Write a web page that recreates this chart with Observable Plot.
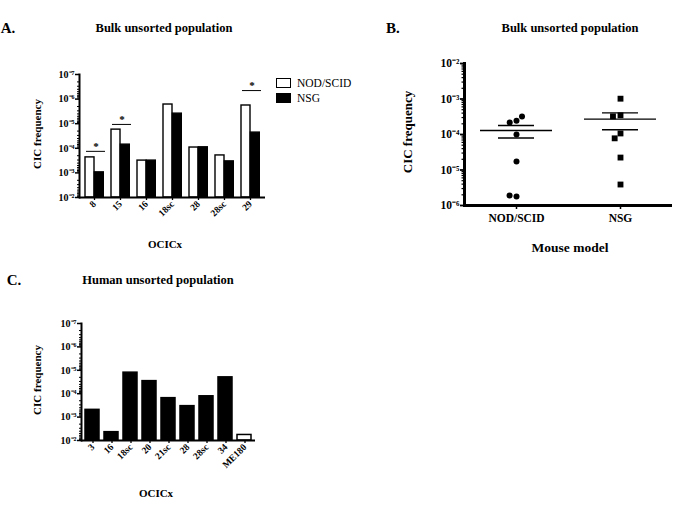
<!DOCTYPE html>
<html><head><meta charset="utf-8">
<script src="https://cdn.jsdelivr.net/npm/d3@7"></script>
<script src="https://cdn.jsdelivr.net/npm/@observablehq/plot@0.6"></script>
<style>
body{margin:0;background:#fff;}
#root{position:relative;width:696px;height:507px;overflow:hidden;font-family:"Liberation Serif","Times New Roman",serif;color:#000;}
</style></head><body><div id="root"></div>
<script>
// ---------- Panel A: bulk unsorted population (CIC frequency by OCICx) ----------
const bulkCats = ["8", "15", "16", "18sc", "28", "28sc", "29"];
const bulkNodScid = [2.34e-4, 1.74e-5, 3.16e-4, 1.66e-6, 9.3e-5, 1.95e-4, 1.82e-6];
const bulkNSG = [9.5e-4, 7.1e-5, 3.16e-4, 3.9e-6, 9.1e-5, 3.4e-4, 2.3e-5];
const sigCats = ["8", "15", "29"];
const sigLevels = [1.33e-4, 1.07e-5, 4.5e-7];

// ---------- Panel B: bulk unsorted population by mouse model ----------
const mouseModels = ["NOD/SCID", "NSG"];
const nodScidPoints = [2.45e-4, 2.19e-4, 3.24e-4, 1.0e-4, 1.74e-5, 1.78e-6, 1.9e-6];
const nsgPoints = [1.02e-3, 3.47e-4, 3.24e-4, 1.07e-4, 7.8e-5, 2.24e-5, 3.9e-6];

// ---------- Panel C: human unsorted population ----------
const humanCats = ["3", "16", "18sc", "20", "21sc", "28", "28sc", "34", "ME180"];
const humanValues = [4.9e-4, 4.4e-3, 1.26e-5, 2.9e-5, 1.55e-4, 3.4e-4, 1.29e-4, 2.0e-5, 5.8e-3];

// tick labels
const decadesAC = [1e-7, 1e-6, 1e-5, 1e-4, 1e-3, 1e-2];
const decadesB = [1e-6, 1e-5, 1e-4, 1e-3, 1e-2];

const supMap = {"-":"⁻","0":"⁰","1":"¹","2":"²","3":"³","4":"⁴","5":"⁵","6":"⁶","7":"⁷","8":"⁸","9":"⁹"};
const pow10 = v => "10" + String(Math.round(Math.log10(v))).split("").map(c => supMap[c]).join("");
const isDecade = v => Math.abs(Math.log10(v) - Math.round(Math.log10(v))) < 1e-9;
const minorTicks = (lo, hi) => d3.scaleLog().domain([lo, hi]).ticks().filter(v => !isDecade(v));

const root = document.getElementById("root");
const FONT = '"Liberation Serif", "Times New Roman", serif';
function place(node, x, y) {
  node.style.position = "absolute"; node.style.left = x + "px"; node.style.top = y + "px";
  root.appendChild(node);
}
function label(text, cx, cy, size, weight = "bold", rotate = 0) {
  const d = document.createElement("div");
  d.textContent = text;
  d.style.cssText = `position:absolute;left:${cx}px;top:${cy}px;font-size:${size}px;font-weight:${weight};white-space:nowrap;line-height:1;transform:translate(-50%,-50%) rotate(${rotate}deg);`;
  root.appendChild(d);
}
const baseStyle = {fontFamily: FONT, fontWeight: "bold", color: "black", background: "transparent", overflow: "visible"};

// ---------- Panel A ----------
const rowsA = bulkCats.flatMap((c, i) => [
  {cat: c, model: "NOD/SCID", v: bulkNodScid[i]},
  {cat: c, model: "NSG", v: bulkNSG[i]}
]);
const sigRows = sigCats.map((c, i) => ({cat: c, level: sigLevels[i]}));
const plotA = Plot.plot({
  width: 280, height: 260, marginLeft: 79, marginRight: 15, marginTop: 74, marginBottom: 63,
  style: baseStyle,
  x: {domain: bulkCats, padding: 0},
  y: {type: "log", domain: [1e-2, 1e-7]},
  marks: [
    Plot.barY(rowsA.filter(d => d.model === "NOD/SCID"), {x: "cat", y1: 1e-2, y2: "v", fill: "white", stroke: "black", strokeWidth: 1.4, insetLeft: 4, insetRight: 13}),
    Plot.barY(rowsA.filter(d => d.model === "NSG"), {x: "cat", y1: 1e-2, y2: "v", fill: "black", stroke: "black", strokeWidth: 1.4, insetLeft: 13.3, insetRight: 3.7}),
    Plot.tickY(sigRows, {x: "cat", y: "level", insetLeft: 5, insetRight: 2, strokeWidth: 1, stroke: "black"}),
    Plot.text(sigRows, {x: "cat", y: "level", text: () => "*", dy: -5, fontSize: 11, dx: 1.5, fill: "black"}),
    Plot.axisY(decadesAC, {tickFormat: pow10, tickSize: 4, tickPadding: 1, fontSize: 10, strokeWidth: 1.5, label: null, fill: "black"}),
    Plot.axisY(minorTicks(1e-7, 1e-2), {tickFormat: () => "", tickSize: 2, strokeWidth: 1, label: null}),
    Plot.axisX({tickRotate: -45, tickSize: 3, tickPadding: 2, fontSize: 9.5, strokeWidth: 1.3, label: null, fill: "black"}),
    Plot.frame({anchor: "left", strokeWidth: 2, stroke: "black"}),
    Plot.ruleY([1e-2], {strokeWidth: 2, stroke: "black"})
  ]
});
place(plotA, 0, 0);

// Legend A
function legendBox(x, y, fill) {
  const b = document.createElement("div");
  b.style.cssText = `position:absolute;left:${x}px;top:${y}px;width:13px;height:8px;border:1.3px solid black;background:${fill};`;
  root.appendChild(b);
}
legendBox(276, 78, "white");
legendBox(276, 93, "black");
const lg1 = document.createElement("div"); lg1.textContent = "NOD/SCID";
lg1.style.cssText = "position:absolute;left:297px;top:77px;font-size:11.5px;line-height:12px;";
root.appendChild(lg1);
const lg2 = document.createElement("div"); lg2.textContent = "NSG";
lg2.style.cssText = "position:absolute;left:297px;top:92px;font-size:11.5px;line-height:12px;";
root.appendChild(lg2);

label("A.", 8, 28, 15);
label("Bulk unsorted population", 164, 27.5, 12.5);
label("CIC frequency", 37, 134, 11, "bold", -90);
label("OCICx", 165, 243.5, 11);

// ---------- Panel B ----------
const rowsB = [
  ...nodScidPoints.map(v => ({g: "NOD/SCID", v})),
  ...nsgPoints.map(v => ({g: "NSG", v}))
];
const statsB = mouseModels.map(g => {
  const vs = rowsB.filter(d => d.g === g).map(d => d.v);
  const m = d3.mean(vs), se = d3.deviation(vs) / Math.sqrt(vs.length);
  return {g, m, lo: m - se, hi: m + se};
});
const plotB = Plot.plot({
  width: 326, height: 260, marginLeft: 93, marginRight: 24, marginTop: 63, marginBottom: 55,
  style: baseStyle,
  fx: {domain: mouseModels, padding: 0},
  y: {type: "log", domain: [1e-6, 1e-2]},
  marks: [
    Plot.dot(rowsB.filter(d => d.g === "NOD/SCID"), Plot.dodgeX("middle", {fx: "g", y: "v", r: 3, fill: "black", stroke: null})),
    Plot.dot(rowsB.filter(d => d.g === "NSG"), Plot.dodgeX("middle", {fx: "g", y: "v", r: 3.3, symbol: "square", fill: "black", stroke: null})),
    Plot.tickY(statsB, {fx: "g", y: "m", insetLeft: 16, insetRight: 16, strokeWidth: 1.4, stroke: "black"}),
    Plot.tickY(statsB, {fx: "g", y: "lo", insetLeft: 34, insetRight: 34, strokeWidth: 1.4, stroke: "black"}),
    Plot.tickY(statsB, {fx: "g", y: "hi", insetLeft: 34, insetRight: 34, strokeWidth: 1.4, stroke: "black"}),
    Plot.ruleX(statsB, {fx: "g", y1: "lo", y2: "hi", strokeWidth: 1.4, stroke: "black"}),
    Plot.axisY(decadesB, {tickFormat: pow10, tickSize: 4, tickPadding: 1, fontSize: 11.5, strokeWidth: 1.8, label: null, fill: "black"}),
    Plot.axisY(minorTicks(1e-6, 1e-2), {tickFormat: () => "", tickSize: 2.5, strokeWidth: 1.2, label: null}),
    Plot.axisFx({anchor: "bottom", tickSize: 4, tickPadding: 4, fontSize: 11.5, strokeWidth: 1.5, label: null, fill: "black"}),
    Plot.frame({anchor: "left", strokeWidth: 3, facetAnchor: "left", stroke: "black"}),
    Plot.ruleY([1e-6], {strokeWidth: 3, stroke: "black"})
  ]
});
place(plotB, 370, 0);

label("B.", 393, 28, 15);
label("Bulk unsorted population", 570, 28, 12.5);
label("CIC frequency", 407, 131.5, 13, "bold", -90);
label("Mouse model", 570, 248, 13.5);

// ---------- Panel C ----------
const rowsC = humanCats.map((c, i) => ({cat: c, v: humanValues[i]}));
const plotC = Plot.plot({
  width: 280, height: 247, marginLeft: 81, marginRight: 25, marginTop: 63, marginBottom: 67,
  style: baseStyle,
  x: {domain: humanCats, padding: 0},
  y: {type: "log", domain: [1e-2, 1e-7]},
  marks: [
    Plot.barY(rowsC, {x: "cat", y1: 1e-2, y2: "v", fill: d => d.cat === "ME180" ? "white" : "black", stroke: "black", strokeWidth: 1.5, insetLeft: 2, insetRight: 3}),
    Plot.axisY(decadesAC, {tickFormat: pow10, tickSize: 4, tickPadding: 1, fontSize: 10, strokeWidth: 1.5, label: null, fill: "black"}),
    Plot.axisY(minorTicks(1e-7, 1e-2), {tickFormat: () => "", tickSize: 2, strokeWidth: 1, label: null}),
    Plot.axisX({tickRotate: -45, tickSize: 3, tickPadding: 2, fontSize: 9.5, strokeWidth: 1.3, label: null, fill: "black"}),
    Plot.frame({anchor: "left", strokeWidth: 2, stroke: "black"}),
    Plot.ruleY([1e-2], {strokeWidth: 2, stroke: "black"})
  ]
});
place(plotC, 0, 260);

label("C.", 14, 280, 15);
label("Human unsorted population", 158, 280, 12.5);
label("CIC frequency", 37, 380, 11, "bold", -90);
label("OCICx", 156, 492.5, 11);
</script>
</body></html>
